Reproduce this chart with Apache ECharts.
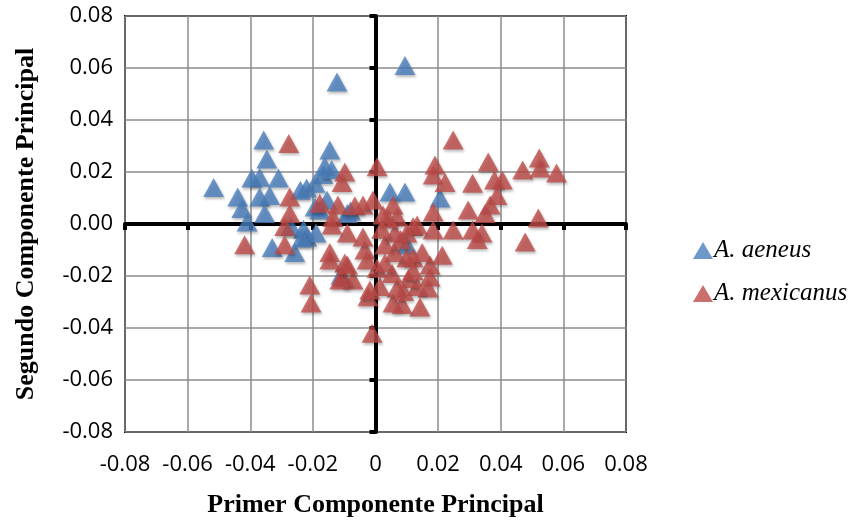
<!DOCTYPE html>
<html>
<head>
<meta charset="utf-8">
<script src="https://cdn.jsdelivr.net/npm/echarts@6/dist/echarts.min.js"></script>
<style>
  html, body { margin: 0; padding: 0; background: #fff; }
  #chart { width: 855px; height: 523px; }
</style>
</head>
<body>
<div id="chart"></div>
<script>
// valores (PC1, PC2)
var seriesNames = ['A. aeneus', 'A. mexicanus'];
var axisTicks = [-0.08, -0.06, -0.04, -0.02, 0, 0.02, 0.04, 0.06, 0.08];

var aeneusPts = [
  [-0.0123, 0.0546], [0.0094, 0.0610], [-0.0357, 0.0323], [-0.0146, 0.0285],
  [-0.0347, 0.0250], [-0.0162, 0.0222], [-0.0168, 0.0190], [-0.0395, 0.0177],
  [-0.0370, 0.0180], [-0.0310, 0.0177], [-0.0193, 0.0157], [-0.0220, 0.0138],
  [-0.0240, 0.0130], [-0.0517, 0.0140], [-0.0440, 0.0104], [-0.0370, 0.0104],
  [-0.0338, 0.0110], [-0.0427, 0.0060], [-0.0354, 0.0040], [-0.0410, 0.0008],
  [-0.0193, 0.0065], [-0.0178, 0.0054], [-0.0155, 0.0092], [-0.0080, 0.0050],
  [-0.0090, 0.0040], [-0.0230, -0.0020], [-0.0270, -0.0010], [-0.0330, -0.0090],
  [-0.0258, -0.0110], [-0.0220, -0.0050], [-0.0190, -0.0035], [-0.0235, -0.0054],
  [-0.0110, -0.0196], [-0.0140, 0.0210], [0.0094, 0.0123], [0.0046, 0.0123],
  [0.0206, 0.0100], [0.0100, -0.0080]
];

var mexicanusPts = [
  [-0.0277, 0.0310], [-0.0274, 0.0104], [-0.0274, 0.0040], [-0.0290, -0.0010],
  [-0.0098, 0.0200], [-0.0107, 0.0160], [0.0005, 0.0220], [-0.0178, 0.0080],
  [-0.0120, 0.0073], [-0.0066, 0.0070], [-0.0040, 0.0073], [-0.0008, 0.0092],
  [-0.0136, 0.0025], [0.0248, 0.0323], [0.0190, 0.0227], [0.0184, 0.0188],
  [0.0222, 0.0160], [0.0310, 0.0157], [0.0056, 0.0073], [0.0184, 0.0046],
  [0.0296, 0.0054], [0.0024, 0.0035], [0.0069, 0.0027], [0.0120, -0.0010],
  [0.0184, -0.0023], [0.0248, -0.0023], [0.0310, -0.0023], [-0.0090, -0.0035],
  [0.0360, 0.0238], [0.0523, 0.0254], [0.0470, 0.0208], [0.0526, 0.0215],
  [0.0578, 0.0196], [0.0380, 0.0169], [0.0405, 0.0169], [0.0388, 0.0110],
  [0.0366, 0.0073], [0.0350, 0.0040], [0.0520, 0.0023], [0.0340, -0.0035],
  [0.0325, -0.0060], [0.0478, -0.0069], [0.0213, -0.0120], [0.0174, -0.0158],
  [0.0174, -0.0204], [0.0168, -0.0246], [0.0142, -0.0319], [0.0056, -0.0304],
  [-0.0011, -0.0420], [0.0133, -0.0004], [0.0100, -0.0035], [0.0085, -0.0310],
  [-0.0024, -0.0280], [0.0133, -0.0240], [0.0069, -0.0246], [0.0014, -0.0240],
  [-0.0018, -0.0254], [-0.0034, -0.0100], [-0.0098, -0.0150], [-0.0072, -0.0215],
  [-0.0104, -0.0204], [0.0005, -0.0170], [0.0053, -0.0190], [0.0100, -0.0130],
  [0.0120, -0.0130], [0.0105, -0.0210], [-0.0027, -0.0138], [0.0030, -0.0080],
  [0.0062, -0.0110], [0.0149, -0.0110], [-0.0146, -0.0110], [-0.0418, -0.0080],
  [-0.0290, -0.0080], [-0.0210, -0.0235], [-0.0206, -0.0304], [-0.0146, -0.0138],
  [-0.0114, -0.0215], [-0.0139, -0.0004], [-0.0090, -0.0158], [0.0062, -0.0035],
  [0.0040, 0.0020], [0.0080, -0.0060], [0.0030, -0.0150], [0.0120, -0.0180],
  [0.0090, -0.0260], [0.0020, -0.0020], [-0.0040, -0.0050]
];

var chart = echarts.init(document.getElementById('chart'), null, { renderer: 'canvas' });

var labelFont = '"Open Sans", "Liberation Sans", sans-serif';
var serif = '"Liberation Serif", "DejaVu Serif", serif';

function fmtX(v) {
  if (Math.abs(v) < 1e-9) return '0';
  return v.toFixed(2);
}

var markerStyle = {
  shadowBlur: 3,
  shadowColor: 'rgba(0,0,0,0.35)',
  shadowOffsetX: 1,
  shadowOffsetY: 2
};

var option = {
  animation: false,
  color: ['#4a7ebb', '#be4b48'],
  grid: {
    left: 125, right: 229, top: 16, bottom: 91,
    show: true,
    borderColor: '#000',
    borderWidth: 2
  },
  legend: {
    orient: 'vertical',
    left: 688,
    top: 233,
    itemGap: 18,
    itemWidth: 20,
    itemHeight: 17,
    icon: 'triangle',
    textStyle: { fontFamily: serif, fontStyle: 'italic', fontSize: 25, color: '#000', padding: [0, 0, 0, -4] },
    data: seriesNames
  },
  xAxis: [{
    type: 'value',
    min: axisTicks[0], max: axisTicks[axisTicks.length - 1], interval: 0.02,
    axisLine: { show: false, onZero: false },
    axisTick: { show: false },
    axisLabel: { formatter: fmtX, fontFamily: labelFont, fontSize: 22, color: '#000', margin: 22 },
    splitLine: { show: true, lineStyle: { color: '#8c8c8c', width: 1.5 } },
    name: 'Primer Componente Principal',
    nameLocation: 'middle',
    nameGap: 60,
    nameTextStyle: { fontFamily: serif, fontWeight: 'bold', fontSize: 26, color: '#000' }
  }, {
    type: 'value',
    min: axisTicks[0], max: axisTicks[axisTicks.length - 1], interval: 0.02,
    position: 'bottom',
    axisLine: { show: true, onZero: true, onZeroAxisIndex: 0, lineStyle: { color: '#000', width: 4 } },
    axisTick: { show: true, length: 6, lineStyle: { color: '#000', width: 4 } },
    axisLabel: { show: false },
    splitLine: { show: false }
  }],
  yAxis: [{
    type: 'value',
    min: axisTicks[0], max: axisTicks[axisTicks.length - 1], interval: 0.02,
    axisLine: { show: false, onZero: false },
    axisTick: { show: false },
    axisLabel: { formatter: function (v) { return v.toFixed(2); }, fontFamily: labelFont, fontSize: 22, color: '#000', margin: 12 },
    splitLine: { show: true, lineStyle: { color: '#8c8c8c', width: 1.5 } },
    name: 'Segundo Componente Principal',
    nameLocation: 'middle',
    nameGap: 86,
    nameTextStyle: { fontFamily: serif, fontWeight: 'bold', fontSize: 26, color: '#000' }
  }, {
    type: 'value',
    min: axisTicks[0], max: axisTicks[axisTicks.length - 1], interval: 0.02,
    position: 'left',
    axisLine: { show: true, onZero: true, onZeroAxisIndex: 0, lineStyle: { color: '#000', width: 4 } },
    axisTick: { show: true, length: 6, lineStyle: { color: '#000', width: 4 } },
    axisLabel: { show: false },
    splitLine: { show: false }
  }],
  series: [{
    name: seriesNames[0],
    type: 'scatter',
    symbol: 'triangle',
    symbolSize: [21, 19],
    itemStyle: markerStyle,
    data: aeneusPts
  }, {
    name: seriesNames[1],
    type: 'scatter',
    symbol: 'triangle',
    symbolSize: [21, 19],
    itemStyle: markerStyle,
    data: mexicanusPts
  }]
};

chart.setOption(option);
</script>
</body>
</html>
